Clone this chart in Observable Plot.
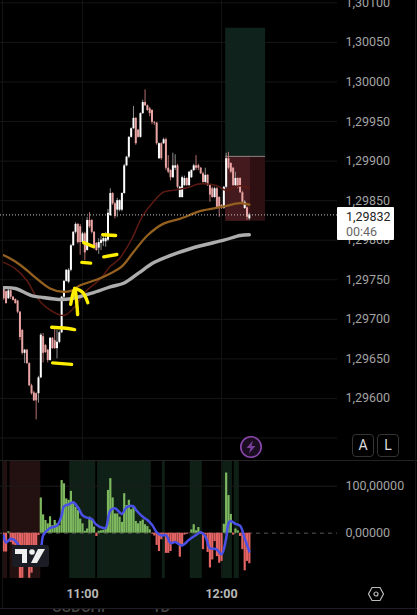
<!DOCTYPE html>
<html><head><meta charset="utf-8">
<script src="https://cdn.jsdelivr.net/npm/d3@7"></script>
<script src="https://cdn.jsdelivr.net/npm/@observablehq/plot@0.6"></script>
<style>
html,body{margin:0;padding:0;background:#000;width:417px;height:615px;overflow:hidden;font-family:Roboto,sans-serif}
#app{position:relative;width:417px;height:615px;overflow:hidden}
#app svg{display:block}
.ov{position:absolute}
.btn{width:20px;height:21px;border:1px solid #333;border-radius:4px;color:#ddd;font-size:14px;line-height:21px;text-align:center;background:#000}
</style></head><body><div id="app"></div>
<script>
// Prices are in points above 1.29000 (1 point = 0.00001)
const basePrice = 1.29;
const firstBar = Date.UTC(2024, 0, 1, 10, 26);
const opens = [739,735,726,736,728,725,723,709,686,657,661,644,616,607,606,606,626,678,667,661,648,676,673,663,671,683,728,748,747,762,793,810,820,817,797,808,787,825,825,810,796,790,796,798,798,800,831,859,846,838,838,838,859,894,905,930,941,954,939,930,960,974,970,966,964,949,948,903,922,922,927,891,888,879,891,894,854,854,869,878,869,879,888,894,894,891,884,873,882,869,865,854,865,854,844,840,867,903,897,891,869,878,878,860,840,841,827];
const highs = [740,736,738,738,729,726,724,710,687,662,662,645,618,609,607,628,682,682,668,662,677,677,688,686,685,729,749,763,764,795,811,822,821,820,810,810,829,835,826,811,797,802,805,806,810,839,865,860,848,853,851,860,896,906,931,942,969,955,940,961,977,990,971,968,965,950,949,923,923,929,929,907,889,910,908,896,868,881,881,879,887,889,896,907,896,892,886,891,883,870,867,867,867,855,845,868,910,911,898,892,886,879,879,862,850,842,834];
const lows = [724,719,725,725,723,719,707,673,655,644,643,615,604,596,573,594,625,645,657,645,647,662,662,650,669,682,726,747,745,760,792,808,795,781,796,774,786,815,808,788,786,782,787,792,791,798,830,844,827,829,836,836,858,893,903,929,940,920,929,929,959,969,963,956,946,945,920,902,901,921,888,884,875,878,888,865,853,853,868,868,868,878,887,888,888,883,872,872,868,848,853,853,839,829,839,839,865,889,884,868,868,865,859,846,839,825,825];
const closes = [726,720,736,728,724,720,709,677,657,661,644,616,606,597,597,626,680,657,658,648,676,663,663,671,683,728,748,762,762,793,810,820,797,797,808,784,825,817,810,790,787,797,800,802,802,834,859,846,830,850,850,859,894,905,930,941,954,922,930,960,974,970,964,960,949,948,922,922,903,927,891,886,879,894,894,867,867,879,878,869,886,888,894,891,891,884,873,882,869,857,854,865,841,840,840,867,903,891,886,869,878,867,860,848,848,829,832];

const slowBars = [0,5,12,16,25,29,38,46,52,58,65,75,85,95,102,106];
const slowValues = [740,739,730,728,725,726,733,741,746,758,772,784,793,800,806,807];
const midBars = [0,5,10,14,20,25,29,33,40,46,51,56,62,69,76,85,94,102,106];
const midValues = [781,773,762,752,739,735,736,743,750,758,767,785,806,821,827,837,842,847,845];
const fastBars = [0,5,10,14,18,25,27,31,35,42,46,50,55,60,65,69,73,77,81,84,92,96,102,106];
const fastValues = [772,764,749,729,716,705,706,717,734,752,767,777,800,831,850,861,863,865,868,871,869,863,869,865];

const inkIds = ["a","a","a","b","b","c","c","c","c","d","d","d","e","e","f","f","g","g","h","h"];
const inkBars = [20.7,25.9,30.6,21.1,29.3,31.9,31.5,30.6,28.9,30.6,34.1,36.3,33.7,37.5,34.5,38.8,42.7,48.3,43.2,48.8];
const inkValues = [690,689,687,645,643,706,721,739,719,739,734,721,772,771,797,792,807,806,779,782];

const lastPrice = 832;
const tradeEntry = 906, tradeTarget = 1068, tradeStop = 824;
const tradeStartBar = 95.8, tradeLastBar = 106.5, tradeEndBar = 113;
const priceTicks = [600,650,700,750,800,850,900,950,1000,1050,1100];
const priceGrid = [550,...priceTicks];

const histogram = [-40,-40,3,-20,-25,-30,-35,-96,-96,-60,-50,-96,-85,-45,-30,-5,75,39,27,20,35,16,27,20,16,112,105,73,70,89,66,55,48,30,20,4,9,34,27,13,-7,4,5,6,9,91,116,75,41,41,34,23,84,59,70,50,55,25,20,25,28,18,14,7,-2,-6,-26,-39,-14,-4,-43,-43,-39,-23,-18,-21,-51,-25,-4,-2,-1,7,18,5,12,-2,-35,-4,-41,-74,-57,-18,-50,-64,-60,19,128,80,40,-4,9,5,-7,-35,-80,-60,-65];
const signalBars = [0,1,3,5,7,10,12,16,17,20,23,25,26,28,30,32,34,36,38,40,43,44,46,48,51,53,56,57,60,62,64,66,68,70,72,74,77,80,83,85,87,89,91,92,94,96,97,98,100,102,104,106];
const signal = [-5,-20,-12,-16,-30,-45,-50,-30,-5,11,16,38,57,61,66,55,38,33,30,18,11,11,48,53,41,55,57,50,35,28,18,2,-5,-4,-21,-19,-26,-14,-4,2,-7,-32,-33,-35,-45,-11,21,26,20,16,-11,-39];
const greenBandStarts = [28.5,40.5,68.5,80.5,94.5,99.5];
const greenBandEnds = [39.7,63.7,69.7,85.7,98.7,101.7];
const redBandStarts = [-0.5,2.7];
const redBandEnds = [1.7,16];
const oscTicks = [0,100];

const timeOf = b => new Date(firstBar + b * 60000);
const at = (h, m) => new Date(Date.UTC(2024, 0, 1, h, m));
// left edge and right edge of the plotting frame
const xDomain = [new Date(at(11,0).getTime() - 35.39*60000), new Date(at(11,0).getTime() + 110.05*60000)];
const WIDTH = 417, RIGHT = 80;
const bars = d3.range(opens.length).map(i => ({t: timeOf(i), o: opens[i], h: highs[i], l: lows[i], c: closes[i], hist: histogram[i]}));
const series = (b, v) => b.map((x, i) => ({t: timeOf(x), v: v[i]}));
const bands = (s, e) => s.map((x, i) => ({a: timeOf(x), b: timeOf(e[i])}));
const ink = inkBars.map((x, i) => ({t: timeOf(x), v: inkValues[i], id: inkIds[i]}));
const fmtPrice = v => (basePrice + v/1e5).toFixed(5).replace(".", ",");
const UP = "#ffffff", DOWN = "#e8a3a3";

const pricePane = Plot.plot({
  width: WIDTH, height: 461, marginLeft: 0, marginRight: RIGHT, marginTop: 0, marginBottom: 0,
  style: {background: "#000", fontFamily: "Roboto", fontSize: "12.5px", overflow: "hidden"},
  x: {type: "utc", domain: xDomain, axis: null},
  y: {domain: [520.3, 1103], axis: null},
  marks: [
    Plot.ruleY(priceGrid, {stroke: "#161616"}),
    Plot.ruleX([at(11,0), at(12,0)], {stroke: "#131313"}),
    Plot.rect([0], {x1: timeOf(tradeStartBar), x2: timeOf(tradeEndBar), y1: tradeEntry, y2: tradeTarget, fill: "#0f231c"}),
    Plot.rect([0], {x1: timeOf(tradeStartBar), x2: timeOf(tradeEndBar), y1: tradeStop, y2: tradeEntry, fill: "#2f1012"}),
    Plot.rect([0], {x1: timeOf(tradeStartBar), x2: timeOf(tradeLastBar), y1: tradeStop, y2: tradeEntry, fill: "#451a1e"}),
    Plot.ruleY([tradeEntry], {x1: timeOf(tradeStartBar), x2: timeOf(tradeEndBar), stroke: "#8a8a8a"}),
    Plot.ruleX(bars, {x: "t", y1: "l", y2: "h", stroke: d => d.c >= d.o ? "#8c8c8c" : "#b56f6f", strokeWidth: 1}),
    Plot.ruleX(bars, {x: "t", y1: "o", y2: "c", stroke: d => d.c >= d.o ? UP : DOWN, strokeWidth: 2}),
    Plot.line(series(fastBars, fastValues), {x: "t", y: "v", stroke: "#5c1a12", strokeWidth: 1.5, curve: "catmull-rom"}),
    Plot.line(series(midBars, midValues), {x: "t", y: "v", stroke: "#94601f", strokeWidth: 2.3, curve: "catmull-rom"}),
    Plot.line(series(slowBars, slowValues), {x: "t", y: "v", stroke: "#adadad", strokeWidth: 3.4, curve: "catmull-rom"}),
    Plot.line(ink, {x: "t", y: "v", z: "id", stroke: "#ffee00", strokeWidth: 3.4, strokeLinecap: "round", strokeLinejoin: "round", curve: "catmull-rom"}),
    Plot.ruleY([lastPrice], {stroke: "#c4c4c4", strokeDasharray: "1,2"}),
    Plot.axisY({anchor: "right", ticks: priceTicks, tickFormat: fmtPrice, tickSize: 0, tickPadding: 8, label: null, fill: "#a3a3a3"})
  ]
});

const oscPane = Plot.plot({
  width: WIDTH, height: 154, marginLeft: 0, marginRight: RIGHT, marginTop: 0, marginBottom: 37,
  style: {background: "#000", fontFamily: "Roboto", fontSize: "12.5px", overflow: "hidden"},
  x: {type: "utc", domain: xDomain, axis: null},
  y: {domain: [-96.4, 152.5], axis: null},
  marks: [
    Plot.rect(bands(greenBandStarts, greenBandEnds), {x1: "a", x2: "b", fill: "#0f2016"}),
    Plot.rect(bands(redBandStarts, redBandEnds), {x1: "a", x2: "b", fill: "#231010"}),
    Plot.ruleY([100], {stroke: "#1c1c1c"}),
    Plot.ruleX([at(11,0), at(12,0)], {stroke: "#1a1a1a"}),
    Plot.ruleY([0], {stroke: "#555", strokeDasharray: "4,4"}),
    Plot.ruleX(bars, {x: "t", y1: 0, y2: "hist", stroke: d => d.hist >= 0 ? "#7db85f" : "#e46464", strokeWidth: 2.2}),
    Plot.line(series(signalBars, signal), {x: "t", y: "v", stroke: "#4a50e6", strokeWidth: 2.5, curve: "catmull-rom"}),
    Plot.axisY({anchor: "right", ticks: oscTicks, tickFormat: v => v.toFixed(5).replace(".", ","), tickSize: 0, tickPadding: 8, label: null, fill: "#a3a3a3"}),
    Plot.axisX({ticks: [at(11,0), at(12,0)], tickFormat: d3.utcFormat("%H:%M"), tickSize: 0, tickPadding: 11, label: null, fill: "#b8b8b8", fontWeight: 700, fontSize: 12.5})
  ]
});

const app = document.getElementById("app");
app.append(pricePane, oscPane);
app.insertAdjacentHTML("beforeend", `
<div class="ov" style="left:0;top:460px;width:417px;height:1px;background:#222"></div>
<div class="ov" style="left:0;top:608px;width:417px;height:1px;background:#1e1e24"></div>
<div class="ov" style="left:2px;top:0;width:1px;height:608px;background:#141414"></div>
<div class="ov" style="left:415px;top:0;width:1px;height:615px;background:#141414"></div>
<div class="ov" style="left:0;top:609px;width:417px;height:6px;overflow:hidden;color:#474747;font-size:15px;line-height:16px;font-weight:500">
  <div style="position:absolute;left:52px;top:-10px">USDCHF</div>
  <div style="position:absolute;left:152px;top:-10px">1D</div>
</div>
<div class="ov" style="left:337px;top:207px;width:57px;height:33px;background:#fff;border-radius:1px">
  <div style="position:absolute;left:9px;top:2px;color:#222;font-size:12.5px;line-height:15px">1,29832</div>
  <div style="position:absolute;left:9px;top:17px;color:#666;font-size:12.5px;line-height:15px">00:46</div>
</div>
<div class="ov btn" style="left:352px;top:434px">A</div>
<div class="ov btn" style="left:377px;top:434px">L</div>
<svg class="ov" style="left:239px;top:435px" width="24" height="24" viewBox="0 0 24 24"><circle cx="12" cy="12" r="10.2" fill="#1a0d20" stroke="#8e47b0" stroke-width="1.6"/><path d="M14 5.5 L7.5 13 H11.5 L10 18.5 L16.5 11 H12.5 Z" fill="#7a3f9c"/></svg>
<svg class="ov" style="left:367px;top:585px" width="18" height="18" viewBox="0 0 18 18"><path d="M5 2.5 H13 L16.5 9 L13 15.5 H5 L1.5 9 Z" fill="none" stroke="#bbb" stroke-width="1.2"/><circle cx="9" cy="9" r="2" fill="none" stroke="#bbb" stroke-width="1.2"/></svg>
<svg class="ov" style="left:12px;top:545px" width="37" height="22" viewBox="0 0 37 22"><rect width="37" height="22" rx="3" fill="#1c1c24"/><path d="M3 4 H15 V18 H10 V9 H3 Z" fill="#f0f0f0"/><circle cx="20" cy="7" r="2.8" fill="#f0f0f0"/><path d="M26 4 H33 L25 18 H19 Z" fill="#f0f0f0"/></svg>
`);
</script></body></html>
